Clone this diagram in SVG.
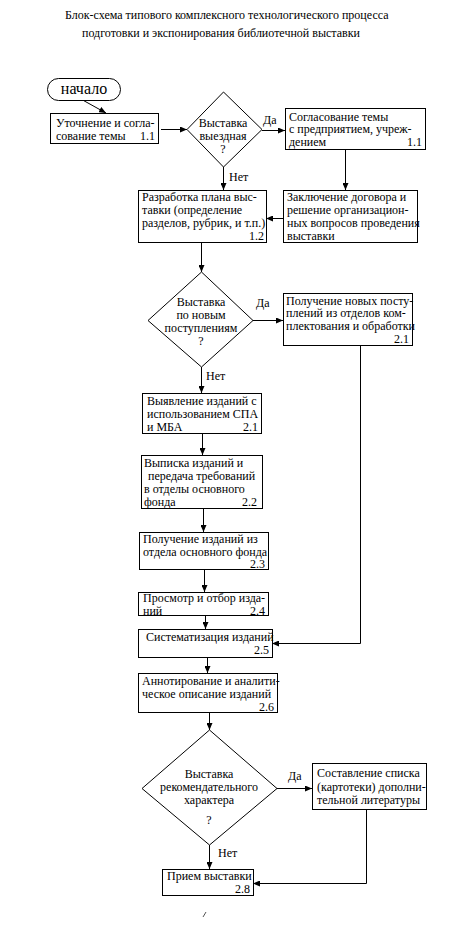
<svg xmlns="http://www.w3.org/2000/svg" width="454" height="930" viewBox="0 0 454 930">
<style>
.t{font-family:"Liberation Serif","Times New Roman",serif;font-size:12px;fill:#000}
.c{text-anchor:middle}
.e{text-anchor:end}
.b{fill:#fff;stroke:#000;stroke-width:1}
.l{fill:none;stroke:#000;stroke-width:1}
</style>
<defs>
<marker id="ah" viewBox="0 0 7 6" refX="7" refY="3" markerWidth="7" markerHeight="6" markerUnits="userSpaceOnUse" orient="auto"><path d="M0,0 L7,3 L0,6 z" fill="#000"/></marker>
</defs>
<rect width="454" height="930" fill="#fff"/>
<g id="title">
<text class="t" x="65" y="19">Блок-схема типового комплексного технологического процесса</text>
<text class="t" x="82" y="37">подготовки и экспонирования библиотечной выставки</text>
</g>
<g id="connectors" class="l" marker-end="url(#ah)">
<line x1="79" y1="98" x2="106" y2="113"/>
<line x1="161" y1="129.5" x2="187" y2="129.5"/>
<line x1="262" y1="130.5" x2="285" y2="130.5"/>
<line x1="345.5" y1="150" x2="345.5" y2="190"/>
<line x1="223.5" y1="167" x2="223.5" y2="190"/>
<line x1="283" y1="218.5" x2="266" y2="218.5"/>
<line x1="201.5" y1="242" x2="201.5" y2="272"/>
<line x1="253" y1="320.5" x2="283" y2="320.5"/>
<line x1="201.5" y1="367" x2="201.5" y2="393"/>
<polyline points="360.5,345 360.5,643.5 272,643.5"/>
<line x1="202.5" y1="433" x2="202.5" y2="455"/>
<line x1="203.5" y1="508" x2="203.5" y2="532"/>
<line x1="204.5" y1="569" x2="204.5" y2="592"/>
<line x1="205.5" y1="615" x2="205.5" y2="629"/>
<line x1="207.5" y1="657" x2="207.5" y2="673"/>
<line x1="209.5" y1="712" x2="209.5" y2="730"/>
<line x1="277" y1="788.5" x2="312" y2="788.5"/>
<line x1="209.5" y1="845" x2="209.5" y2="869"/>
<polyline points="366.5,809 366.5,883.5 253,883.5"/>
</g>
<g id="labels">
<text class="t" x="263" y="124">Да</text>
<text class="t" x="229" y="181">Нет</text>
<text class="t" x="256" y="307">Да</text>
<text class="t" x="206" y="380">Нет</text>
<text class="t" x="288" y="780">Да</text>
<text class="t" x="218" y="857">Нет</text>
</g>
<g id="start">
<rect class="b" x="47.5" y="78.5" width="73" height="22" rx="11"/>
<text class="t c" x="84" y="94" style="font-size:16px">начало</text>
</g>
<g id="n11">
<rect class="b" x="50.5" y="113.5" width="108" height="30"/>
<text class="t" x="56" y="127">Уточнение и согла-</text>
<text class="t" x="56" y="140">сование темы</text>
<text class="t e" x="155" y="140">1.1</text>
</g>
<g id="d1">
<polygon class="b" points="223.5,92 262,129.5 223.5,167 187,129.5"/>
<text class="t c" x="223" y="127">Выставка</text>
<text class="t c" x="223" y="140">выездная</text>
<text class="t c" x="223" y="153">?</text>
</g>
<g id="nSogl">
<rect class="b" x="285.5" y="108.5" width="140" height="41"/>
<text class="t" x="289" y="120.5">Согласование темы</text>
<text class="t" x="289" y="133">с предприятием, учреж-</text>
<text class="t" x="289" y="145.5">дением</text>
<text class="t e" x="422" y="145.5">1.1</text>
</g>
<g id="n12">
<rect class="b" x="138.5" y="190.5" width="128" height="52"/>
<text class="t" x="142" y="201">Разработка плана выс-</text>
<text class="t" x="142" y="214">тавки (определение</text>
<text class="t" x="142" y="227">разделов, рубрик, и т.п.)</text>
<text class="t e" x="264" y="240">1.2</text>
</g>
<g id="nZakl">
<rect class="b" x="283.5" y="190.5" width="134" height="52"/>
<text class="t" x="287" y="201">Заключение договора и</text>
<text class="t" x="287" y="214">решение организацион-</text>
<text class="t" x="287" y="227">ных вопросов проведения</text>
<text class="t" x="287" y="240">выставки</text>
</g>
<g id="d2">
<polygon class="b" points="201.5,272 253,320.5 201.5,367 148,320.5"/>
<text class="t c" x="201" y="306">Выставка</text>
<text class="t c" x="201" y="319">по новым</text>
<text class="t c" x="201" y="332">поступлениям</text>
<text class="t c" x="201" y="345">?</text>
</g>
<g id="nPoluch">
<rect class="b" x="283.5" y="293.5" width="129" height="52"/>
<text class="t" x="286" y="304.5">Получение новых посту-</text>
<text class="t" x="286" y="317">плений из отделов ком-</text>
<text class="t" x="286" y="330">плектования и обработки</text>
<text class="t e" x="409" y="343">2.1</text>
</g>
<g id="n21">
<rect class="b" x="142.5" y="393.5" width="119" height="40"/>
<text class="t" x="147" y="405">Выявление изданий с</text>
<text class="t" x="147" y="418">использованием СПА</text>
<text class="t" x="147" y="431">и МБА</text>
<text class="t e" x="258" y="431">2.1</text>
</g>
<g id="n22">
<rect class="b" x="141.5" y="455.5" width="121" height="53"/>
<text class="t" x="144" y="466.5">Выписка изданий и</text>
<text class="t" x="148" y="479.5">передача требований</text>
<text class="t" x="144" y="492.5">в отделы основного</text>
<text class="t" x="144" y="505.5">фонда</text>
<text class="t e" x="257" y="505.5">2.2</text>
</g>
<g id="n23">
<rect class="b" x="139.5" y="532.5" width="129" height="37"/>
<text class="t" x="143" y="542.5">Получение изданий из</text>
<text class="t" x="143" y="555.5">отдела основного фонда</text>
<text class="t e" x="265" y="568">2.3</text>
</g>
<g id="n24">
<rect class="b" x="138.5" y="592.5" width="130" height="23"/>
<text class="t" x="143" y="601.5">Просмотр и отбор изда-</text>
<text class="t" x="143" y="614.5">ний</text>
<text class="t e" x="265" y="614.5">2.4</text>
</g>
<g id="n25">
<rect class="b" x="138.5" y="629.5" width="134" height="28"/>
<text class="t" x="146" y="641">Систематизация изданий</text>
<text class="t e" x="269" y="654">2.5</text>
</g>
<g id="n26">
<rect class="b" x="138.5" y="673.5" width="139" height="39"/>
<text class="t" x="142" y="684.5">Аннотирование и аналити-</text>
<text class="t" x="142" y="697.5">ческое описание изданий</text>
<text class="t e" x="274" y="710.5">2.6</text>
</g>
<g id="d3">
<polygon class="b" points="209.5,730 277,788.5 209.5,845 142,788.5"/>
<text class="t c" x="209" y="778">Выставка</text>
<text class="t c" x="209" y="791">рекомендательного</text>
<text class="t c" x="209" y="804">характера</text>
<text class="t c" x="209" y="824">?</text>
</g>
<g id="nSost">
<rect class="b" x="312.5" y="763.5" width="114" height="46"/>
<text class="t" x="317" y="777">Составление списка</text>
<text class="t" x="317" y="791">(картотеки) дополни-</text>
<text class="t" x="317" y="804">тельной литературы</text>
</g>
<g id="n28">
<rect class="b" x="162.5" y="869.5" width="91" height="26"/>
<text class="t" x="167" y="880">Прием выставки</text>
<text class="t e" x="250" y="893">2.8</text>
</g>
<path d="M203,917 L206,912" stroke="#555" stroke-width="1" fill="none"/>
</svg>
